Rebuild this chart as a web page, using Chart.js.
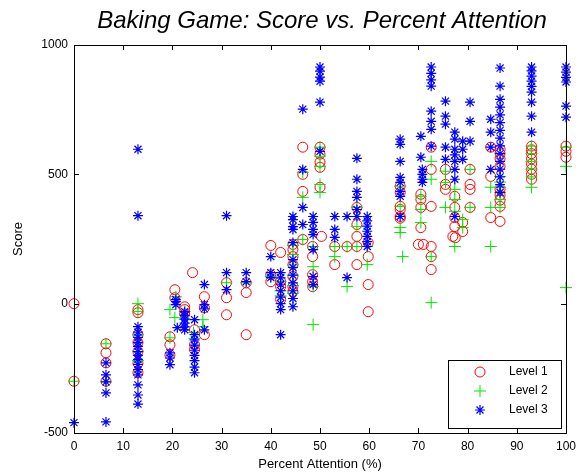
<!DOCTYPE html>
<html>
<head>
<meta charset="utf-8">
<script src="https://cdn.jsdelivr.net/npm/chart.js@4/dist/chart.umd.min.js"></script>
<style>
  html, body { margin: 0; padding: 0; background: #fff; }
  #wrap { width: 587px; height: 472px; }
</style>
</head>
<body>
<div id="wrap"><canvas id="chart" width="587" height="472"></canvas></div>
<script>
// Chart text
const chartTitle = 'Baking Game: Score vs. Percent Attention';
const xAxisTitle = 'Percent Attention (%)';
const yAxisTitle = 'Score';
const seriesNames = ['Level 1', 'Level 2', 'Level 3'];

// Tick values
const xTicks = [0, 10, 20, 30, 40, 50, 60, 70, 80, 90, 100];
const yTicks = [-500, 0, 500, 1000];

// Level 1 scores: [percent attention, score]
const level1 = [
  [0, 0], [0, -300],
  [6.5, -155], [6.5, -190], [6.5, -229], [6.5, -300],
  [13, -23], [13, -35], [13, -120], [13, -150], [13, -185], [13, -230], [13, -267],
  [19.5, -128], [19.5, -159], [19.5, -198],
  [20.5, 54], [20.5, 23],
  [22.5, -12], [22.5, -23], [22.5, -40],
  [24.1, 120], [24.5, -101], [24.5, -159], [24.5, -178],
  [26.5, 27], [26.5, -16], [26.5, -120],
  [31, 81], [31, 23], [31, -43],
  [35, 81], [35, 43], [35, -120],
  [40, 225], [40, 112], [40, 85],
  [42, 198], [42, 85], [42, 66], [42, 16],
  [44.5, 229], [44.5, 209], [44.5, 182], [44.5, 151], [44.5, 105], [44.5, 66], [44.5, 47],
  [46.5, 605], [46.5, 500], [46.5, 434], [46.5, 248],
  [48.5, 221], [48.5, 182], [48.5, 112], [48.5, 85], [48.5, 66],
  [50, 605], [50, 578], [50, 547], [50, 527], [50, 450], [50.3, 260],
  [53, 221], [53, 151],
  [55.5, 221],
  [57.5, 372], [57.5, 306], [57.5, 260], [57.5, 221], [57.5, 151],
  [59.8, 236], [59.8, 182], [59.8, 74], [59.8, -31],
  [66.3, 454], [66.3, 430], [66.3, 376], [66.3, 364], [66.3, 337], [66.3, 330],
  [70.5, 423], [70.5, 403], [70.5, 372], [70.5, 294], [70, 229], [71, 229],
  [72.6, 605], [72.6, 519], [72.6, 376], [72.6, 221], [72.6, 182], [72.6, 132],
  [75.5, 519], [75.5, 461], [75.5, 442],
  [77.4, 415], [77.4, 372], [77.4, 333], [77.4, 298], [77, 260], [77.5, 255],
  [79, 314], [79, 279],
  [80.5, 519], [80.5, 461], [80.5, 442], [80.5, 372],
  [84.7, 605], [84.7, 492], [84.7, 333],
  [86.6, 597], [86.6, 580], [86.6, 560], [86.6, 531], [86.6, 442], [86.6, 420],
  [86.6, 400], [86.6, 376], [86.6, 318],
  [93, 609], [93, 595], [93, 580], [93, 560], [93, 540], [93, 520], [93, 500], [93, 481],
  [100, 609], [100, 589], [100, 566]
];

// Level 2 scores: [percent attention, score]
const level2 = [
  [0, -300],
  [6.5, -155], [6.5, -302],
  [13, 0], [13, -30], [13, -120], [13, -185], [13, -220],
  [19.5, -132], [19.5, -23], [20.5, -54], [20.7, 27],
  [22.5, -30], [22.5, -60],
  [24.3, -112], [24.5, -135],
  [26.2, -62], [26.2, -89],
  [31, 81],
  [35, 81],
  [40, 105],
  [42, 85], [42, 50], [42, 30],
  [44.5, 225], [44.5, 190], [44.5, 150], [44.5, 110], [44.5, 70], [44.5, 40],
  [46.5, 508], [46.5, 411], [46.5, 248],
  [48.6, 221], [48.6, 143], [48.6, 66], [48.6, -81],
  [50, 605], [50, 570], [50, 531], [50, 461], [50, 430],
  [53, 221], [53, 182],
  [55.5, 221], [55.5, 66],
  [57.5, 372], [57.5, 298], [57.5, 221],
  [59.6, 221], [59.6, 151],
  [66.3, 454], [66.3, 376], [66.3, 294], [66.3, 275], [66.8, 182],
  [70.5, 415], [70.5, 364], [70.5, 314],
  [72.6, 550], [72.6, 481], [72.6, 182], [72.6, 4],
  [75.5, 512], [75.5, 469], [75.5, 372],
  [77.4, 442], [77.4, 403], [77.4, 357], [77.4, 221],
  [79, 325], [79, 294],
  [80.5, 519], [80.5, 372],
  [84.7, 450], [84.7, 372], [84.7, 221],
  [86.6, 492], [86.6, 470], [86.6, 450], [86.6, 430], [86.6, 403], [86.6, 372],
  [93, 609], [93, 580], [93, 550], [93, 520], [93, 490], [93, 450],
  [100, 605], [100, 531], [100, 62]
];

// Level 3 scores: [percent attention, score]
const level3 = [
  [0, -460],
  [6.5, -229], [6.5, -275], [6.5, -302], [6.5, -345], [6.5, -457],
  [13, 597], [13, 340], [13, -89], [13, -110], [13, -130], [13, -150], [13, -165],
  [13, -185], [13, -200], [13, -215], [13, -235], [13, -255], [13, -275],
  [13, -314], [13, -353], [13, -388],
  [19.5, -190], [19.5, -210], [19.5, -236],
  [20.7, 16], [20.7, 8], [20.7, -4], [21, -93],
  [22.5, -31], [22.5, -45], [22.5, -60], [22.5, -75], [22.5, -90], [22.5, -101],
  [24.5, -62], [24.5, -120], [24.5, -140], [24.5, -160], [24.5, -180], [24.5, -200],
  [24.5, -220], [24.5, -245], [24.5, -267],
  [26.5, 74], [26.5, -4], [26.5, -20], [26.5, -101],
  [31, 340], [31, 120], [31, 54],
  [35, 120], [35, 85],
  [40, 182], [40, 120], [40, 101],
  [42, 120], [42, 100], [42, 75], [42, 50], [42, 25], [42, 0], [42, -23], [42, -120],
  [44.5, 337], [44.5, 325], [44.5, 298], [44.5, 287], [44.5, 236], [44.5, 170],
  [44.5, 140], [44.5, 110], [44.5, 80], [44.5, 50], [44.5, 20], [44.5, -12],
  [46.5, 752], [46.5, 519], [46.5, 372], [46.5, 306],
  [48.6, 337], [48.6, 314], [48.6, 287], [48.6, 267], [48.6, 209], [48.6, 105], [48.6, 74],
  [50, 915], [50, 899], [50, 876], [50, 860], [50, 779], [50, 589],
  [53, 337], [53, 287], [53, 256],
  [55.5, 337], [55.5, 101],
  [57.5, 562], [57.5, 481], [57.5, 434], [57.5, 411], [57.5, 364], [57.5, 337],
  [59.6, 337], [59.6, 320], [59.6, 300], [59.6, 280], [59.6, 260], [59.6, 240], [59.6, 221],
  [66.3, 636], [66.3, 616], [66.3, 550], [66.3, 488], [66.3, 469], [66.3, 434], [66.3, 415], [66.3, 337],
  [70.5, 647], [70.5, 566], [70.8, 519], [70.8, 500], [70.8, 481], [70.8, 469],
  [72.6, 915], [72.6, 890], [72.6, 865], [72.6, 841], [72.6, 744], [72.6, 705], [72.6, 674], [72.6, 609],
  [75.5, 783], [75.5, 725], [75.5, 694], [75.5, 605], [75.5, 558],
  [77.4, 663], [77.4, 636], [77.4, 597], [77.4, 575], [77.4, 550], [77.4, 519], [77.4, 481], [77.4, 337],
  [79, 628], [79, 597], [79, 558],
  [80.5, 779], [80.5, 705], [80.5, 628],
  [84.7, 713], [84.7, 663], [84.7, 605], [84.7, 519],
  [86.6, 911], [86.6, 841], [86.6, 790], [86.6, 760], [86.6, 730], [86.6, 700], [86.6, 670],
  [86.6, 640], [86.6, 610], [86.6, 580], [86.6, 550], [86.6, 520], [86.6, 490], [86.6, 460], [86.6, 430],
  [93, 915], [93, 900], [93, 880], [93, 860], [93, 840], [93, 818], [93, 779], [93, 725], [93, 663],
  [100, 915], [100, 895], [100, 875], [100, 857], [100, 764], [100, 721]
];

const FONT = '"Liberation Sans", Arial, Helvetica, sans-serif';

const styles = [
  { color: '#ff0000', pointStyle: 'circle', radius: 5, width: 1 },
  { color: '#00e600', pointStyle: 'cross', radius: 6, width: 1 },
  { color: '#0000ff', pointStyle: 'star', radius: 5, width: 1.2 }
];

const toPoints = rows => rows.map(([x, y]) => ({ x, y }));
const seriesData = [level1, level2, level3];

const datasets = seriesData.map((rows, i) => ({
  label: seriesNames[i],
  data: toPoints(rows),
  pointStyle: styles[i].pointStyle,
  pointRadius: styles[i].radius,
  pointHoverRadius: styles[i].radius,
  borderColor: styles[i].color,
  backgroundColor: 'rgba(0,0,0,0)',
  pointBorderWidth: styles[i].width,
  showLine: false,
  clip: false,
  order: 3 - i
}));

// Draw a single marker in the given style
function drawMarker(ctx, style, x, y) {
  ctx.save();
  ctx.strokeStyle = style.color;
  ctx.lineWidth = style.width;
  const r = style.radius;
  ctx.beginPath();
  if (style.pointStyle === 'circle') {
    ctx.arc(x, y, r, 0, Math.PI * 2);
  } else {
    ctx.moveTo(x - r, y); ctx.lineTo(x + r, y);
    ctx.moveTo(x, y - r); ctx.lineTo(x, y + r);
    if (style.pointStyle === 'star') {
      const d = r * Math.SQRT1_2;
      ctx.moveTo(x - d, y - d); ctx.lineTo(x + d, y + d);
      ctx.moveTo(x - d, y + d); ctx.lineTo(x + d, y - d);
    }
  }
  ctx.stroke();
  ctx.restore();
}

// Box frame, inward ticks, titles and legend
const decorations = {
  id: 'decorations',
  afterDraw(chart) {
    const { ctx, chartArea: a, scales } = chart;
    const tick = 5;
    ctx.save();
    ctx.strokeStyle = '#000';
    ctx.lineWidth = 1;
    ctx.strokeRect(Math.round(a.left) + 0.5, Math.round(a.top) + 0.5,
                   Math.round(a.right - a.left), Math.round(a.bottom - a.top));
    ctx.beginPath();
    xTicks.forEach(v => {
      const px = Math.round(scales.x.getPixelForValue(v)) + 0.5;
      ctx.moveTo(px, a.bottom); ctx.lineTo(px, a.bottom - tick);
      ctx.moveTo(px, a.top); ctx.lineTo(px, a.top + tick);
    });
    yTicks.forEach(v => {
      const py = Math.round(scales.y.getPixelForValue(v)) + 0.5;
      ctx.moveTo(a.left, py); ctx.lineTo(a.left + tick, py);
      ctx.moveTo(a.right, py); ctx.lineTo(a.right - tick, py);
    });
    ctx.stroke();

    // Title
    ctx.fillStyle = '#000';
    ctx.textAlign = 'center';
    ctx.textBaseline = 'alphabetic';
    ctx.font = 'italic 24px ' + FONT;
    ctx.fillText(chartTitle, 322, 28);

    // Axis titles
    ctx.font = '13px ' + FONT;
    ctx.textBaseline = 'middle';
    ctx.fillText(xAxisTitle, (a.left + a.right) / 2, 464);
    ctx.save();
    ctx.translate(18, (a.top + a.bottom) / 2);
    ctx.rotate(-Math.PI / 2);
    ctx.fillText(yAxisTitle, 0, 0);
    ctx.restore();

    // Legend box
    const lx = 448, ly = 360, lw = 113, lh = 68;
    ctx.fillStyle = '#fff';
    ctx.fillRect(lx, ly, lw, lh);
    ctx.strokeStyle = '#000';
    ctx.strokeRect(lx + 0.5, ly + 0.5, lw, lh);
    ctx.font = '12px ' + FONT;
    ctx.textAlign = 'left';
    ctx.fillStyle = '#000';
    seriesNames.forEach((name, i) => {
      const y = ly + 12 + i * 19;
      drawMarker(ctx, styles[i], 480, y);
      ctx.fillText(name, 509, y);
    });
    ctx.restore();
  }
};

new Chart(document.getElementById('chart'), {
  type: 'scatter',
  data: { datasets },
  options: {
    responsive: false,
    animation: false,
    devicePixelRatio: 1,
    layout: { padding: { left: 0, top: 45, right: 21, bottom: 0 } },
    plugins: {
      legend: { display: false },
      title: { display: false },
      tooltip: { enabled: false }
    },
    scales: {
      x: {
        type: 'linear',
        min: 0, max: 100,
        afterBuildTicks: s => { s.ticks = xTicks.map(v => ({ value: v })); },
        afterFit: s => { s.height = 39; },
        grid: { display: false, drawTicks: false },
        border: { display: false },
        ticks: { color: '#000', padding: 6, font: { family: FONT, size: 12 }, maxRotation: 0,
                 callback: v => String(v) }
      },
      y: {
        type: 'linear',
        min: -500, max: 1000,
        afterBuildTicks: s => { s.ticks = yTicks.map(v => ({ value: v })); },
        afterFit: s => { s.width = 74; },
        grid: { display: false, drawTicks: false },
        border: { display: false },
        ticks: { color: '#000', padding: 6, font: { family: FONT, size: 12 },
                 callback: v => String(v) }
      }
    }
  },
  plugins: [decorations]
});
</script>
</body>
</html>
